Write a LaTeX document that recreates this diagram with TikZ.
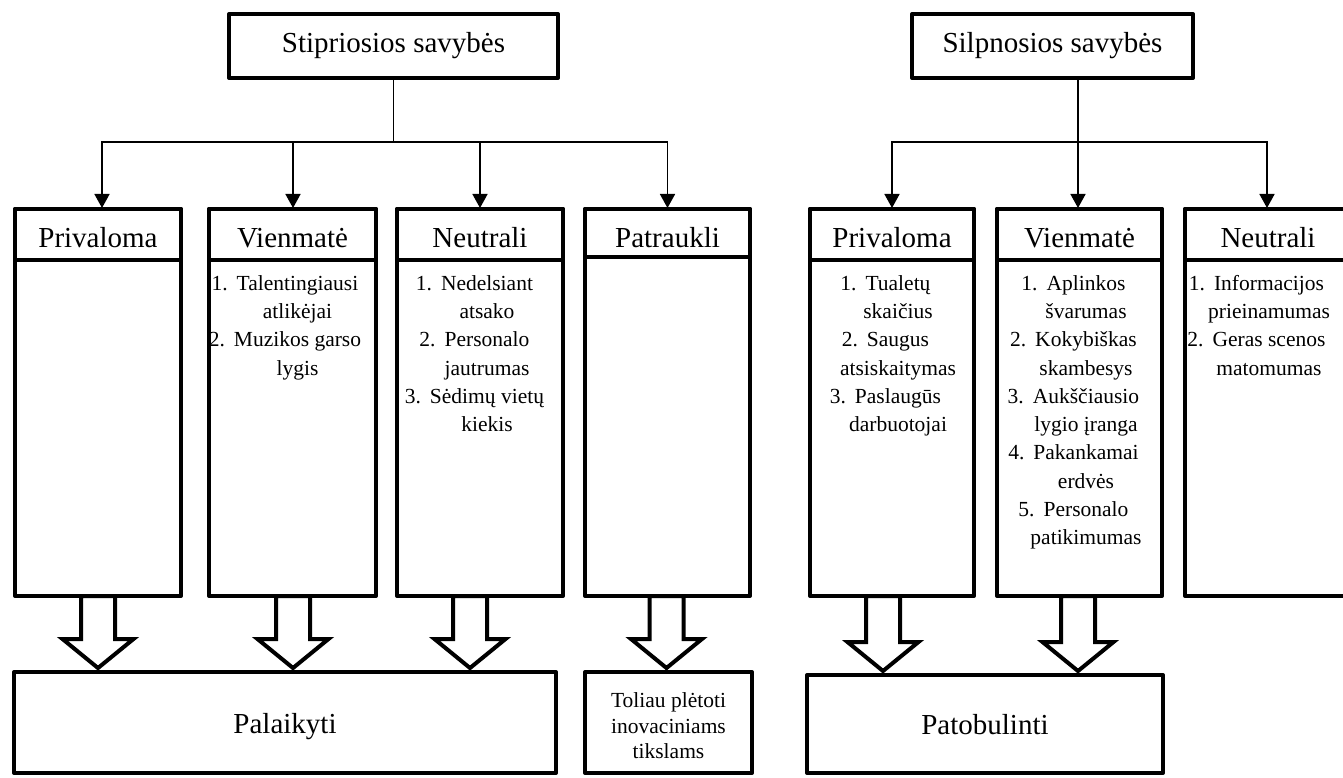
\documentclass[tikz,border=0pt]{standalone}
\usepackage{fontspec}
\setmainfont{Liberation Serif}
\usetikzlibrary{arrows.meta,calc}
\tikzset{
  boxline/.style={draw, line width=4pt, line join=round, inner sep=0pt, outer sep=0pt},
  hdr/.style={font=\fontsize{29pt}{34pt}\selectfont},
  colhdr/.style={hdr, text height=25pt, text depth=0pt},
  bighdr/.style={hdr, text height=21pt, text depth=0pt},
  listtxt/.style={font=\fontsize{21.5pt}{28.3pt}\selectfont, align=center, inner sep=0pt, anchor=north},
  conn/.style={draw, line width=1.6pt},
  connarr/.style={conn, -{Triangle[width=15pt,length=14pt]}, shorten >=1pt},
  hollow/.style={draw, fill=white, line width=4pt, line join=miter},
}
\newcommand\hollowarr[3]{%
  \draw[hollow] let \p1=([xshift=#3]#1.south), \p2=(#2.north) in
    (\x1-17pt,\y1) -- (\x1-17pt,\y2+33pt) -- (\x1-35.5pt,\y2+33pt) -- (\x1,\y2+4pt)
    -- (\x1+35.5pt,\y2+33pt) -- (\x1+17pt,\y2+33pt) -- (\x1+17pt,\y1) -- cycle;}
\newcommand\num[1]{\llap{#1.\hspace{9pt}}}
\begin{document}
\begin{tikzpicture}[x=1pt,y=-1pt]
\useasboundingbox (0,0) rectangle (1343,778);
% top boxes
\node[boxline, hdr, minimum width=329pt, minimum height=64pt] (S) at (393.5,46) {Stipriosios savybės};
\node[boxline, hdr, minimum width=281pt, minimum height=64pt] (W) at (1052.5,46) {Silpnosios savybės};
% left columns
\node[boxline, anchor=north, minimum width=166pt, minimum height=387pt] (L1) at (98,209) {};
\node[boxline, colhdr, anchor=north, minimum width=166pt, minimum height=51pt] (L1h) at (L1.north) {Privaloma};
\node[boxline, anchor=north, minimum width=167pt, minimum height=387pt] (L2) at (292.5,209) {};
\node[boxline, colhdr, anchor=north, minimum width=167pt, minimum height=51pt] (L2h) at (L2.north) {Vienmatė};
\node[boxline, anchor=north, minimum width=166pt, minimum height=387pt] (L3) at (480,209) {};
\node[boxline, colhdr, anchor=north, minimum width=166pt, minimum height=51pt] (L3h) at (L3.north) {Neutrali};
\node[boxline, anchor=north, minimum width=165pt, minimum height=387pt] (L4) at (667.5,209) {};
\node[boxline, hdr, text height=28pt, text depth=0pt, anchor=north, minimum width=165pt, minimum height=48pt] (L4h) at (L4.north) {Patraukli};
% right columns
\node[boxline, anchor=north, minimum width=164pt, minimum height=387pt] (R1) at (892,209) {};
\node[boxline, colhdr, anchor=north, minimum width=164pt, minimum height=51pt] (R1h) at (R1.north) {Privaloma};
\node[boxline, anchor=north, minimum width=165pt, minimum height=387pt] (R2) at (1079.5,209) {};
\node[boxline, colhdr, anchor=north, minimum width=165pt, minimum height=51pt] (R2h) at (R2.north) {Vienmatė};
\node[boxline, anchor=north, minimum width=166pt, minimum height=387pt] (R3) at (1268,209) {};
\node[boxline, colhdr, anchor=north, minimum width=166pt, minimum height=51pt] (R3h) at (R3.north) {Neutrali};
% lists
\node[listtxt] (L2t) at (297.5,275) {\num{1}Talentingiausi\\ atlikėjai\\ \num{2}Muzikos garso\\ lygis};
\node[listtxt] (L3t) at (487,275) {\num{1}Nedelsiant\\ atsako\\ \num{2}Personalo\\ jautrumas\\ \num{3}Sėdimų vietų\\ kiekis};
\node[listtxt] (R1t) at (898,275) {\num{1}Tualetų\\ skaičius\\ \num{2}Saugus\\ atsiskaitymas\\ \num{3}Paslaugūs\\ darbuotojai};
\node[listtxt] (R2t) at (1086,275) {\num{1}Aplinkos\\ švarumas\\ \num{2}Kokybiškas\\ skambesys\\ \num{3}Aukščiausio\\ lygio įranga\\ \num{4}Pakankamai\\ erdvės\\ \num{5}Personalo\\ patikimumas};
\node[listtxt] (R3t) at (1269,275) {\num{1}Informacijos\\ prieinamumas\\ \num{2}Geras scenos\\ matomumas};
% bottom boxes
\node[boxline, bighdr, minimum width=542pt, minimum height=101pt] (P) at (285,722.5) {Palaikyti};
\node[boxline, minimum width=167pt, minimum height=101pt] (T) at (668.5,722.5) {};
\node[font=\fontsize{21.5pt}{25.5pt}\selectfont, align=center, inner sep=0pt] (Tt) at (668.5,726) {Toliau plėtoti\\inovaciniams\\tikslams};
\node[boxline, bighdr, minimum width=356pt, minimum height=98pt] (B) at (985,724) {Patobulinti};
% connectors
\coordinate (SJ) at (393.5,142);
\coordinate (WJ) at (1078,142);
\draw[conn] (S.south) -- (SJ);
\draw[conn] (WJ |- W.south) -- (WJ);
\draw[connarr] (SJ) -| ([xshift=4pt]L1h.north);
\draw[connarr] (SJ) -| ([xshift=0.5pt]L2h.north);
\draw[connarr] (SJ) -| (L3h.north);
\draw[connarr] (SJ) -| (L4h.north);
\draw[connarr] (WJ) -| (R1h.north);
\draw[connarr] (WJ) -- (WJ |- R2h.north);
\draw[connarr] (WJ) -| ([xshift=-1pt]R3h.north);
% hollow arrows
\hollowarr{L1}{P}{0pt}
\hollowarr{L2}{P}{0.5pt}
\hollowarr{L3}{P}{-10pt}
\hollowarr{L4}{T}{-1pt}
\hollowarr{R1}{B}{-9pt}
\hollowarr{R2}{B}{-1.5pt}
\end{tikzpicture}
\end{document}
